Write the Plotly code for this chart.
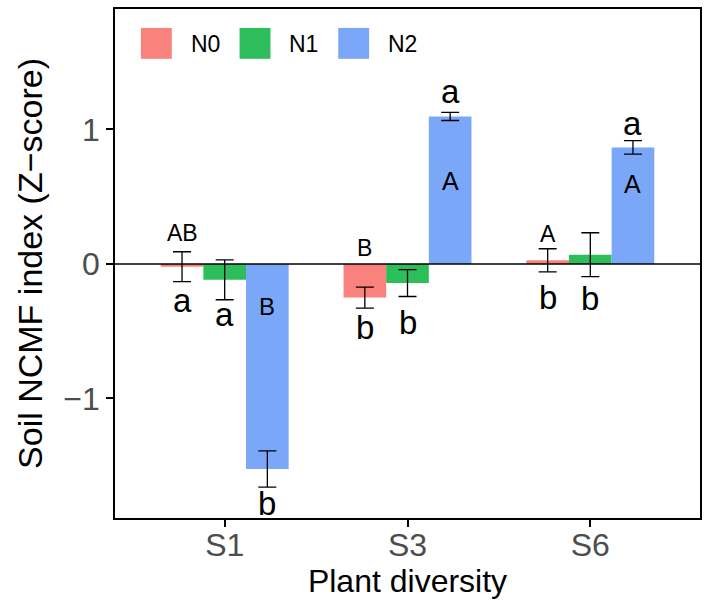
import plotly.graph_objects as go

categories = ["S1", "S3", "S6"]
series = ["N0", "N1", "N2"]
colors = ["#F9837C", "#2DBE5B", "#7BA7F9"]

n0_vals = [-0.02, -0.25, 0.027]
n0_err = [0.111, 0.078, 0.086]
n1_vals = [-0.118, -0.142, 0.069]
n1_err = [0.148, 0.100, 0.163]
n2_vals = [-1.525, 1.097, 0.867]
n2_err = [0.135, 0.030, 0.050]

lower_letters = [["a", "a", "b"], ["b", "b", "a"], ["b", "b", "a"]]   # [category][series]
upper_letters = [["AB", "", "B"], ["B", "", "A"], ["A", "", "A"]]

# label centre heights (data units)
lower_y = [[-0.275, -0.378, -1.778], [-0.474, -0.437, 1.281], [-0.252, -0.259, 1.044]]
upper_y = [[0.23, None, -0.317], [0.119, None, 0.615], [0.222, None, 0.593]]
upper_size = [[23, None, 24], [23, None, 25], [23, None, 25]]

vals = [n0_vals, n1_vals, n2_vals]
errs = [n0_err, n1_err, n2_err]

W, H = 709, 609
L, R, T, B = 115, 7, 7, 91
pw, ph = W - L - R, H - T - B

fig = go.Figure()
for i, s in enumerate(series):
    fig.add_trace(go.Bar(
        x=list(range(len(categories))), y=vals[i], name=s,
        marker=dict(color=colors[i], line=dict(width=0)),
        error_y=dict(type="data", array=errs[i], color="black", thickness=1.3, width=9),
        showlegend=False,
    ))

bar_w = 0.7 / 3
offsets = [-bar_w, 0, bar_w]
ann = []
for c in range(len(categories)):
    for s in range(3):
        if lower_letters[c][s]:
            ann.append(dict(x=c + offsets[s], y=lower_y[c][s], text=lower_letters[c][s],
                            showarrow=False, xref="x", yref="y", yanchor="middle",
                            font=dict(size=33, color="black", family="Liberation Sans, Arial")))
        if upper_letters[c][s]:
            ann.append(dict(x=c + offsets[s], y=upper_y[c][s], text=upper_letters[c][s],
                            showarrow=False, xref="x", yref="y", yanchor="middle",
                            font=dict(size=upper_size[c][s], color="black",
                                      family="Liberation Sans, Arial")))

def px(xp):
    return (xp - L) / pw

def py(yp):
    return (H - B - yp) / ph

shapes = [dict(type="line", xref="paper", yref="y", x0=0, x1=1, y0=0, y1=0,
               line=dict(color="black", width=1.6), layer="above")]
# custom legend
leg_x = [141, 240, 339]
for i, s in enumerate(series):
    shapes.append(dict(type="rect", xref="paper", yref="paper",
                       x0=px(leg_x[i]), x1=px(leg_x[i] + 31), y0=py(57), y1=py(26),
                       fillcolor=colors[i], line=dict(width=0)))
    ann.append(dict(x=px(leg_x[i] + 48), y=py(42), xref="paper", yref="paper", text=s,
                    showarrow=False, xanchor="left", yanchor="middle",
                    font=dict(size=23, color="black", family="Liberation Sans, Arial")))

fig.update_layout(
    width=W, height=H,
    margin=dict(l=L, r=R, t=T, b=B),
    paper_bgcolor="white", plot_bgcolor="white",
    barmode="group", bargap=0.3, bargroupgap=0,
    annotations=ann, shapes=shapes,
    font=dict(family="Liberation Sans, Arial", color="black"),
    xaxis=dict(
        range=[-0.6, 2.6], tickvals=list(range(len(categories))), ticktext=categories,
        showline=True, linecolor="black", linewidth=1.5, mirror=True,
        ticks="outside", ticklen=7, tickwidth=1.5, tickcolor="black",
        showgrid=False, zeroline=False, ticklabelstandoff=-9,
        tickfont=dict(size=32, color="#4D4D4D"),
        title=dict(text="Plant diversity", font=dict(size=32, color="black"), standoff=0),
    ),
    yaxis=dict(
        range=[-1.889, 1.896], tickvals=[-1, 0, 1], ticktext=["\u22121", "0", "1"],
        showline=True, linecolor="black", linewidth=1.5, mirror=True,
        ticks="outside", ticklen=7, tickwidth=1.5, tickcolor="black",
        showgrid=False, zeroline=False,
        tickfont=dict(size=32, color="#4D4D4D"),
        title=dict(text="Soil NCMF index (Z\u2212score)", font=dict(size=34, color="black"), standoff=10),
    ),
)

fig.write_html("out.html")
